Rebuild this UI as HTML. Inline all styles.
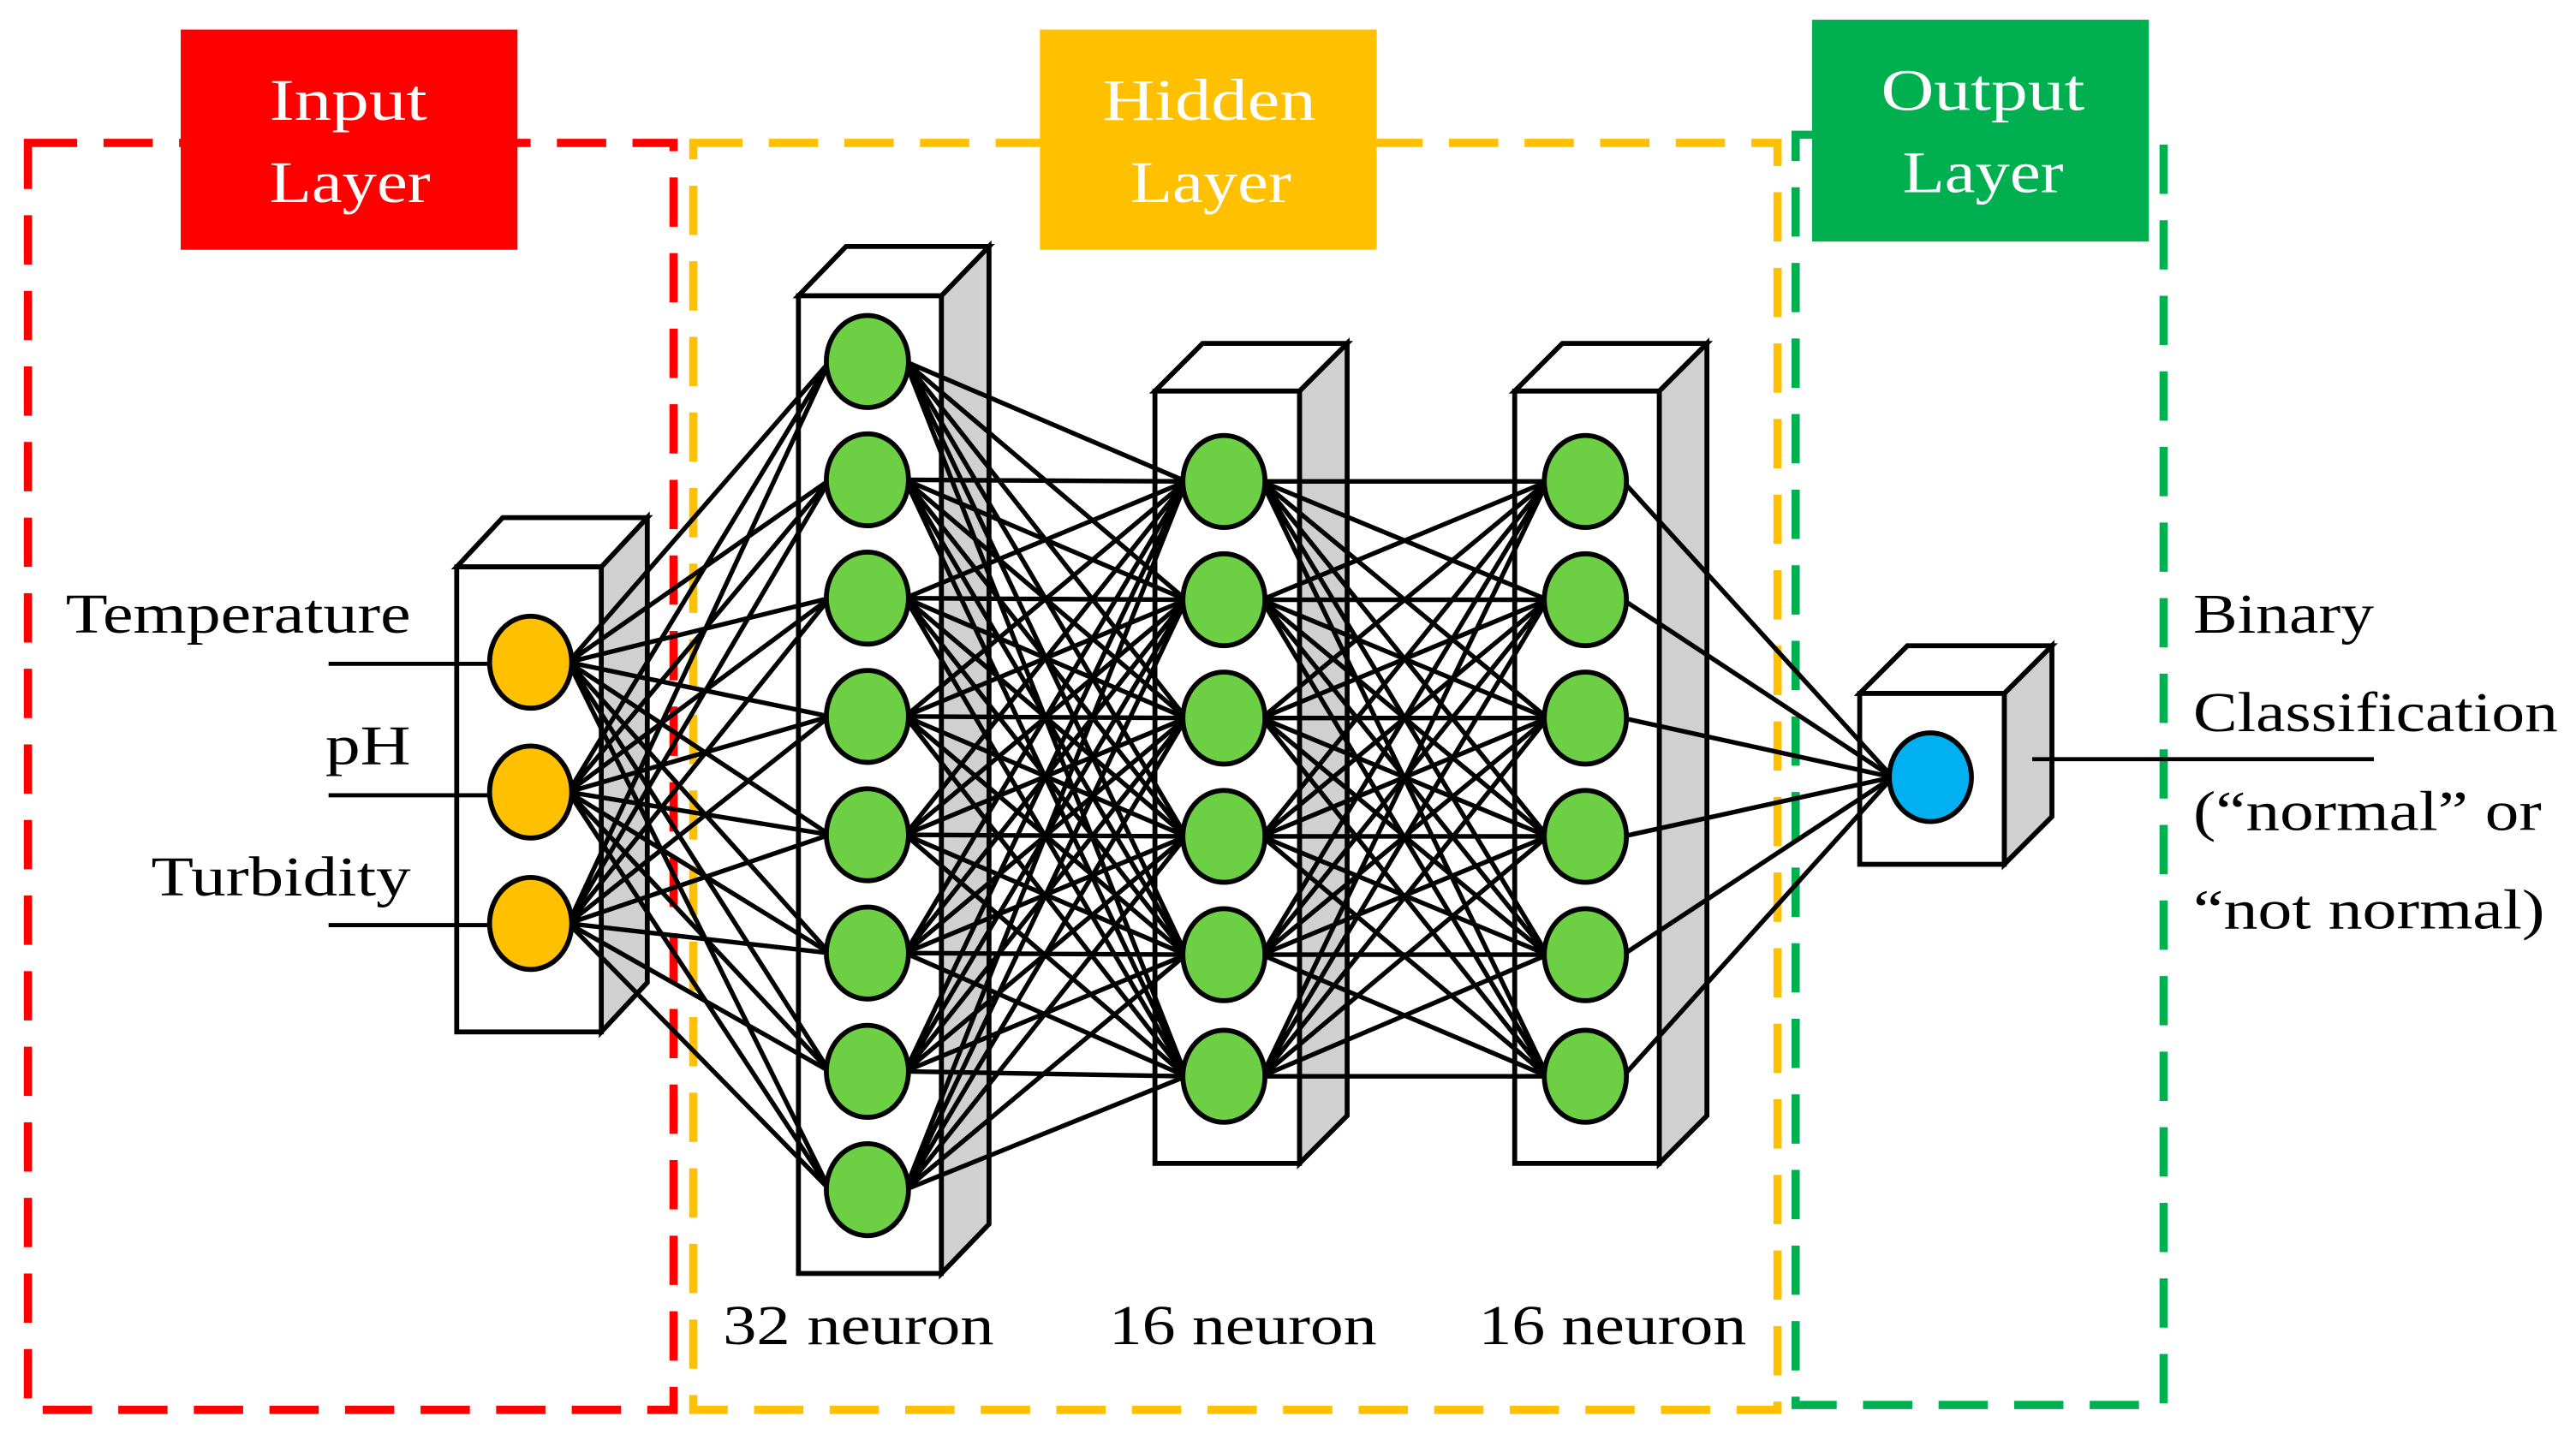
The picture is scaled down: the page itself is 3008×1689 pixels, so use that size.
<!DOCTYPE html>
<html><head><meta charset="utf-8"><style>
html,body{margin:0;padding:0;background:#fff;}
svg{display:block;}
text{font-family:"Liberation Serif",serif;}
</style></head><body>
<svg width="3008" height="1689" viewBox="0 0 1568 880" preserveAspectRatio="none" xmlns="http://www.w3.org/2000/svg">
<rect width="1568" height="880" fill="#fff"/>
<rect x="17" y="87" width="393" height="771" fill="none" stroke="#ff0000" stroke-width="5" stroke-dasharray="30 16"/>
<rect x="422" y="87" width="660" height="771" fill="none" stroke="#ffc000" stroke-width="5" stroke-dasharray="30 16"/>
<rect x="1093" y="82" width="224" height="773" fill="none" stroke="#00b050" stroke-width="5" stroke-dasharray="30 16"/>
<rect x="110" y="18" width="205" height="134" fill="#ff0000"/>
<rect x="633" y="18" width="205" height="134" fill="#ffc000"/>
<rect x="1103" y="12" width="205" height="135" fill="#00b050"/>
<g fill="#fff" font-size="36" text-anchor="middle">
<text x="212" y="73" textLength="96" lengthAdjust="spacingAndGlyphs">Input</text><text x="213" y="123" textLength="98" lengthAdjust="spacingAndGlyphs">Layer</text>
<text x="736" y="73" textLength="130" lengthAdjust="spacingAndGlyphs">Hidden</text><text x="737" y="123" textLength="98" lengthAdjust="spacingAndGlyphs">Layer</text>
<text x="1207" y="67" textLength="124" lengthAdjust="spacingAndGlyphs">Output</text><text x="1207" y="117" textLength="98" lengthAdjust="spacingAndGlyphs">Layer</text>
</g>
<g stroke="#000" stroke-width="3">
<polygon points="366,345 394,315 394,598 366,628" fill="#d0d0d0"/>
<polygon points="278,345 306,315 394,315 366,345" fill="#fff"/>
<rect x="278" y="345" width="88" height="283" fill="#fff"/>
<polygon points="573,180 602,150 602,745 573,775" fill="#d0d0d0"/>
<polygon points="486,180 515,150 602,150 573,180" fill="#fff"/>
<rect x="486" y="180" width="87" height="595" fill="#fff"/>
<polygon points="791,238 820,209 820,679 791,708" fill="#d0d0d0"/>
<polygon points="703,238 732,209 820,209 791,238" fill="#fff"/>
<rect x="703" y="238" width="88" height="470" fill="#fff"/>
<polygon points="1010,238 1039,209 1039,679 1010,708" fill="#d0d0d0"/>
<polygon points="922,238 951,209 1039,209 1010,238" fill="#fff"/>
<rect x="922" y="238" width="88" height="470" fill="#fff"/>
<polygon points="1220,422 1249,393 1249,497 1220,526" fill="#d0d0d0"/>
<polygon points="1132,422 1161,393 1249,393 1220,422" fill="#fff"/>
<rect x="1132" y="422" width="88" height="104" fill="#fff"/>
</g>
<g stroke="#000" stroke-width="2.8" fill="none">
<path d="M346 403L505 220M346 403L505 292M346 403L505 364M346 403L505 436M346 403L505 508M346 403L505 580M346 403L505 652M346 403L505 724
M346 482L505 220M346 482L505 292M346 482L505 364M346 482L505 436M346 482L505 508M346 482L505 580M346 482L505 652M346 482L505 724
M346 562L505 220M346 562L505 292M346 562L505 364M346 562L505 436M346 562L505 508M346 562L505 580M346 562L505 652M346 562L505 724"/>
<path d="M551 220L722 293M551 220L722 365M551 220L722 437M551 220L722 509M551 220L722 581M551 220L722 655
M551 292L722 293M551 292L722 365M551 292L722 437M551 292L722 509M551 292L722 581M551 292L722 655
M551 364L722 293M551 364L722 365M551 364L722 437M551 364L722 509M551 364L722 581M551 364L722 655
M551 436L722 293M551 436L722 365M551 436L722 437M551 436L722 509M551 436L722 581M551 436L722 655
M551 508L722 293M551 508L722 365M551 508L722 437M551 508L722 509M551 508L722 581M551 508L722 655
M551 580L722 293M551 580L722 365M551 580L722 437M551 580L722 509M551 580L722 581M551 580L722 655
M551 652L722 293M551 652L722 365M551 652L722 437M551 652L722 509M551 652L722 581M551 652L722 655
M551 724L722 293M551 724L722 365M551 724L722 437M551 724L722 509M551 724L722 581M551 724L722 655"/>
<path d="M768 293L942 293M768 293L942 365M768 293L942 437M768 293L942 509M768 293L942 581M768 293L942 655
M768 365L942 293M768 365L942 365M768 365L942 437M768 365L942 509M768 365L942 581M768 365L942 655
M768 437L942 293M768 437L942 365M768 437L942 437M768 437L942 509M768 437L942 581M768 437L942 655
M768 509L942 293M768 509L942 365M768 509L942 437M768 509L942 509M768 509L942 581M768 509L942 655
M768 581L942 293M768 581L942 365M768 581L942 437M768 581L942 509M768 581L942 581M768 581L942 655
M768 655L942 293M768 655L942 365M768 655L942 437M768 655L942 509M768 655L942 581M768 655L942 655"/>
<path d="M988 293L1152 473M988 365L1152 473M988 437L1152 473M988 509L1152 473M988 581L1152 473M988 655L1152 473"/>
</g>
<g stroke="#000" stroke-width="3">
<g fill="#ffc000">
<ellipse cx="323" cy="403" rx="25" ry="28"/><ellipse cx="323" cy="482" rx="25" ry="28"/><ellipse cx="323" cy="562" rx="25" ry="28"/>
</g>
<g fill="#6ccf44">
<ellipse cx="528" cy="220" rx="25" ry="28"/><ellipse cx="528" cy="292" rx="25" ry="28"/><ellipse cx="528" cy="364" rx="25" ry="28"/><ellipse cx="528" cy="436" rx="25" ry="28"/>
<ellipse cx="528" cy="508" rx="25" ry="28"/><ellipse cx="528" cy="580" rx="25" ry="28"/><ellipse cx="528" cy="652" rx="25" ry="28"/><ellipse cx="528" cy="724" rx="25" ry="28"/>
<ellipse cx="745" cy="293" rx="25" ry="28"/><ellipse cx="745" cy="365" rx="25" ry="28"/><ellipse cx="745" cy="437" rx="25" ry="28"/><ellipse cx="745" cy="509" rx="25" ry="28"/><ellipse cx="745" cy="581" rx="25" ry="28"/><ellipse cx="745" cy="655" rx="25" ry="28"/>
<ellipse cx="965" cy="293" rx="25" ry="28"/><ellipse cx="965" cy="365" rx="25" ry="28"/><ellipse cx="965" cy="437" rx="25" ry="28"/><ellipse cx="965" cy="509" rx="25" ry="28"/><ellipse cx="965" cy="581" rx="25" ry="28"/><ellipse cx="965" cy="655" rx="25" ry="28"/>
</g>
<ellipse cx="1175" cy="473" rx="25" ry="27" fill="#00b0f0"/>
</g>
<g stroke="#000" stroke-width="2.5">
<line x1="200" y1="404" x2="298" y2="404"/>
<line x1="200" y1="484" x2="298" y2="484"/>
<line x1="200" y1="563" x2="298" y2="563"/>
<line x1="1237" y1="462" x2="1445" y2="462"/>
</g>
<g font-size="34" fill="#000">
<text x="250" y="385" text-anchor="end" textLength="210" lengthAdjust="spacingAndGlyphs">Temperature</text>
<text x="250" y="465" text-anchor="end" textLength="52" lengthAdjust="spacingAndGlyphs">pH</text>
<text x="250" y="545" text-anchor="end" textLength="158" lengthAdjust="spacingAndGlyphs">Turbidity</text>
<text x="1335" y="385" textLength="110" lengthAdjust="spacingAndGlyphs">Binary</text>
<text x="1335" y="445" textLength="222" lengthAdjust="spacingAndGlyphs">Classification</text>
<text x="1335" y="505" textLength="212" lengthAdjust="spacingAndGlyphs">(“normal” or</text>
<text x="1335" y="565" textLength="214" lengthAdjust="spacingAndGlyphs">“not normal)</text>
<text x="440" y="818" textLength="165" lengthAdjust="spacingAndGlyphs">32 neuron</text>
<text x="675" y="818" textLength="163" lengthAdjust="spacingAndGlyphs">16 neuron</text>
<text x="900" y="818" textLength="163" lengthAdjust="spacingAndGlyphs">16 neuron</text>
</g>
</svg>
</body></html>
